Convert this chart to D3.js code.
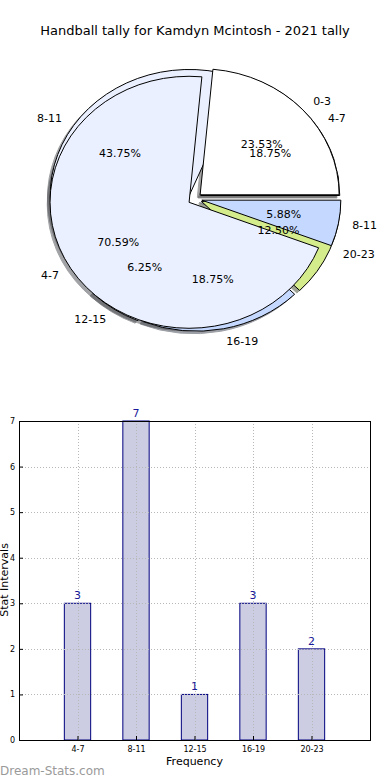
<!DOCTYPE html>
<html>
<head>
<meta charset="utf-8">
<script src="https://cdn.jsdelivr.net/npm/d3@7"></script>
<style>
  body { margin: 0; background: #fff; }
  svg { display: block; font-family: "DejaVu Sans", sans-serif; }
</style>
</head>
<body>
<div id="chart"></div>
<script>
// first pie (drawn on top)
const pieALabels = ["0-3", "4-7", "8-11"];
const pieAValues = [4, 12, 1];
const pieAColors = ["#ffffff", "#eaf0ff", "#c5d8ff"];

// second pie (underneath)
const pieBLabels = ["4-7", "8-11", "12-15", "16-19", "20-23"];
const pieBValues = [3, 7, 1, 3, 2];
const pieBColors = ["#ffffff", "#eaf0ff", "#eaf0ff", "#c5d8ff", "#d4ec8c"];

// bar chart
const barCategories = ["4-7", "8-11", "12-15", "16-19", "20-23"];
const barValues = [3, 7, 1, 3, 2];
const yTicks = [0, 1, 2, 3, 4, 5, 6, 7];

const settings = {
  cx: 195, cy: 199, rx: 139, ry: 126,
  explode: 0.05,
};

const svg = d3.select("#chart").append("svg")
  .attr("width", 390)
  .attr("height", 780);

svg.append("text")
  .attr("x", 195).attr("y", 35)
  .attr("text-anchor", "middle")
  .attr("font-size", "13px")
  .attr("fill", "#000")
  .text("Handball tally for Kamdyn Mcintosh - 2021 tally");

// ---- pies ----
// matplotlib style: start at 3 o'clock, counterclockwise
const pie = d3.pie().sort(null).startAngle(Math.PI / 2).endAngle(Math.PI / 2 - 2 * Math.PI);
const unitArc = d3.arc().innerRadius(0).outerRadius(1);

function layout(labels, values, colors) {
  const total = d3.sum(values);
  return pie(values).map((d, i) => {
    const m = (d.startAngle + d.endAngle) / 2;
    const ux = Math.sin(m), uy = -Math.cos(m);
    const ox = settings.cx + settings.explode * settings.rx * ux;
    const oy = settings.cy + settings.explode * settings.ry * uy;
    return { d, ux, uy, ox, oy, label: labels[i], color: colors[i],
             pct: (100 * values[i] / total).toFixed(2) + "%" };
  });
}

const sliceA = layout(pieALabels, pieAValues, pieAColors);
const sliceB = layout(pieBLabels, pieBValues, pieBColors);

const pieGroup = svg.append("g");

// shadows under everything
const shadowGroup = pieGroup.append("g");
[...sliceB, ...sliceA].forEach(s => {
  const c = d3.rgb(s.color);
  const sc = d3.rgb(c.r * 0.3, c.g * 0.3, c.b * 0.3);
  shadowGroup.append("path")
    .attr("d", unitArc(s.d))
    .attr("transform", `translate(${s.ox - 0.02 * settings.rx},${s.oy + 0.02 * settings.ry}) scale(${settings.rx},${settings.ry})`)
    .attr("fill", sc)
    .attr("stroke", sc)
    .attr("stroke-width", 1)
    .attr("vector-effect", "non-scaling-stroke")
    .attr("opacity", 0.5);
});

function drawWedges(slices) {
  const g = pieGroup.append("g");
  g.selectAll("path").data(slices).join("path")
    .attr("d", s => unitArc(s.d))
    .attr("transform", s => `translate(${s.ox},${s.oy}) scale(${settings.rx},${settings.ry})`)
    .attr("fill", s => s.color)
    .attr("stroke", "#000")
    .attr("stroke-width", 1)
    .attr("vector-effect", "non-scaling-stroke");
}
drawWedges(sliceB);
drawWedges(sliceA);

function drawTexts(slices) {
  slices.forEach(s => {
    const lx = s.ox + 1.1 * settings.rx * s.ux;
    const ly = s.oy + 1.1 * settings.ry * s.uy;
    pieGroup.append("text")
      .attr("x", lx).attr("y", ly)
      .attr("dy", "0.35em")
      .attr("text-anchor", lx > settings.cx ? "start" : "end")
      .attr("font-size", "11px")
      .text(s.label);
    pieGroup.append("text")
      .attr("x", s.ox + 0.6 * settings.rx * s.ux)
      .attr("y", s.oy + 0.6 * settings.ry * s.uy)
      .attr("dy", "0.35em")
      .attr("text-anchor", "middle")
      .attr("font-size", "11px")
      .text(s.pct);
  });
}
drawTexts(sliceB);
drawTexts(sliceA);

// ---- bar chart ----
const plot = { left: 19, right: 370, top: 421, bottom: 740 };

const x = d3.scaleLinear().domain([-1, 5]).range([plot.left, plot.right]);
const y = d3.scaleLinear().domain([0, 7]).range([plot.bottom, plot.top]);

const barGroup = svg.append("g");

barGroup.selectAll("rect.bar").data(barValues).join("rect")
  .attr("class", "bar")
  .attr("x", (d, i) => x(i - 0.225))
  .attr("width", x(0.45) - x(0))
  .attr("y", d => y(d))
  .attr("height", d => y(0) - y(d))
  .attr("fill", "#ccccE2")
  .attr("stroke", "#000080")
  .attr("stroke-width", 1);

// grid (on top of bars)
const grid = barGroup.append("g")
  .attr("stroke", "#b8b8b8")
  .attr("stroke-width", 1)
  .attr("stroke-dasharray", "1,2");
grid.selectAll("line.gy").data(yTicks).join("line")
  .attr("x1", plot.left).attr("x2", plot.right)
  .attr("y1", d => Math.round(y(d)) + 0.5).attr("y2", d => Math.round(y(d)) + 0.5);
grid.selectAll("line.gx").data(barCategories).join("line")
  .attr("y1", plot.top).attr("y2", plot.bottom)
  .attr("x1", (d, i) => Math.round(x(i)) + 0.5).attr("x2", (d, i) => Math.round(x(i)) + 0.5);

// frame
barGroup.append("rect")
  .attr("x", plot.left + 0.5).attr("y", plot.top + 0.5)
  .attr("width", plot.right - plot.left).attr("height", plot.bottom - plot.top)
  .attr("fill", "none")
  .attr("stroke", "#000");

// axes
const yAxis = d3.axisLeft(y).tickValues(yTicks).tickFormat(d3.format("d")).tickSize(-4).tickPadding(4);
const gy = barGroup.append("g")
  .attr("transform", `translate(${plot.left},0)`)
  .call(yAxis);
gy.select(".domain").remove();
gy.selectAll("text").attr("font-size", "8px").attr("font-family", "DejaVu Sans");

const xAxis = d3.axisBottom(x).tickValues(d3.range(barCategories.length))
  .tickFormat(i => barCategories[i]).tickSize(-4).tickPadding(6);
const gx = barGroup.append("g")
  .attr("transform", `translate(0,${plot.bottom})`)
  .call(xAxis);
gx.select(".domain").remove();
gx.selectAll("text").attr("font-size", "8px").attr("font-family", "DejaVu Sans");

// value labels
barGroup.selectAll("text.val").data(barValues).join("text")
  .attr("class", "val")
  .attr("x", (d, i) => x(i))
  .attr("y", d => y(d) - 4)
  .attr("text-anchor", "middle")
  .attr("font-size", "11px")
  .attr("fill", "#1a1a9a")
  .text(d => d);

svg.append("text")
  .attr("x", (plot.left + plot.right) / 2).attr("y", 765)
  .attr("text-anchor", "middle")
  .attr("font-size", "11px")
  .text("Frequency");

svg.append("text")
  .attr("transform", "translate(8,580) rotate(-90)")
  .attr("text-anchor", "middle")
  .attr("font-size", "11px")
  .text("Stat Intervals");

svg.append("text")
  .attr("x", 0).attr("y", 775)
  .attr("font-size", "12px")
  .attr("fill", "#9a9a9a")
  .text("Dream-Stats.com");
</script>
</body>
</html>
